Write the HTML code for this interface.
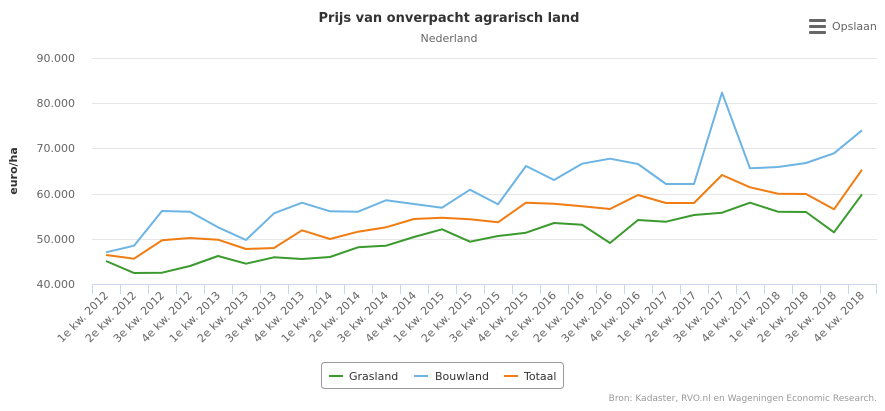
<!DOCTYPE html>
<html><head><meta charset="utf-8"><style>
body{margin:0;background:#fff;}
svg{display:block;font-family:"DejaVu Sans","Liberation Sans",sans-serif;}
</style></head><body>
<svg width="885" height="411" viewBox="0 0 885 411" xmlns="http://www.w3.org/2000/svg">
<rect width="885" height="411" fill="#fff"/>
<text x="449" y="22" text-anchor="middle" font-size="13" font-weight="bold" fill="#333">Prijs van onverpacht agrarisch land</text>
<text x="449" y="42" text-anchor="middle" font-size="11" fill="#666">Nederland</text>
<g fill="#666"><rect x="809" y="19" width="17" height="3" rx="1"/><rect x="809" y="25" width="17" height="3" rx="1"/><rect x="809" y="31" width="17" height="3" rx="1"/></g>
<text x="832" y="30" font-size="11" fill="#666">Opslaan</text>
<g stroke="#e6e6e6" stroke-width="1">
<line x1="92" x2="877" y1="58.5" y2="58.5"/><line x1="92" x2="877" y1="103.5" y2="103.5"/><line x1="92" x2="877" y1="148.5" y2="148.5"/><line x1="92" x2="877" y1="194.5" y2="194.5"/><line x1="92" x2="877" y1="239.5" y2="239.5"/>
</g>
<line x1="92" x2="877" y1="284.5" y2="284.5" stroke="#ccd6eb"/>
<g font-size="11" fill="#666" text-anchor="end">
<text x="75" y="62">90.000</text><text x="75" y="107">80.000</text><text x="75" y="152">70.000</text><text x="75" y="198">60.000</text><text x="75" y="243">50.000</text><text x="75" y="288">40.000</text>
</g>
<text transform="translate(17,171) rotate(-90)" text-anchor="middle" font-size="11" font-weight="bold" fill="#333">euro/ha</text>
<path stroke="#ccd6eb" fill="none" d="M92.5 284v10M120.5 284v10M148.5 284v10M176.5 284v10M204.5 284v10M232.5 284v10M260.5 284v10M288.5 284v10M316.5 284v10M344.5 284v10M372.5 284v10M400.5 284v10M428.5 284v10M456.5 284v10M484.5 284v10M512.5 284v10M540.5 284v10M568.5 284v10M596.5 284v10M624.5 284v10M652.5 284v10M680.5 284v10M708.5 284v10M736.5 284v10M764.5 284v10M792.5 284v10M820.5 284v10M848.5 284v10M876.5 284v10"/>
<g font-size="11" fill="#666" text-anchor="end">
<text transform="translate(109,296) rotate(-45)">1e kw. 2012</text>
<text transform="translate(137,296) rotate(-45)">2e kw. 2012</text>
<text transform="translate(165,296) rotate(-45)">3e kw. 2012</text>
<text transform="translate(193,296) rotate(-45)">4e kw. 2012</text>
<text transform="translate(221,296) rotate(-45)">1e kw. 2013</text>
<text transform="translate(249,296) rotate(-45)">2e kw. 2013</text>
<text transform="translate(277,296) rotate(-45)">3e kw. 2013</text>
<text transform="translate(305,296) rotate(-45)">4e kw. 2013</text>
<text transform="translate(333,296) rotate(-45)">1e kw. 2014</text>
<text transform="translate(361,296) rotate(-45)">2e kw. 2014</text>
<text transform="translate(389,296) rotate(-45)">3e kw. 2014</text>
<text transform="translate(417,296) rotate(-45)">4e kw. 2014</text>
<text transform="translate(445,296) rotate(-45)">1e kw. 2015</text>
<text transform="translate(473,296) rotate(-45)">2e kw. 2015</text>
<text transform="translate(501,296) rotate(-45)">3e kw. 2015</text>
<text transform="translate(529,296) rotate(-45)">4e kw. 2015</text>
<text transform="translate(557,296) rotate(-45)">1e kw. 2016</text>
<text transform="translate(585,296) rotate(-45)">2e kw. 2016</text>
<text transform="translate(613,296) rotate(-45)">3e kw. 2016</text>
<text transform="translate(641,296) rotate(-45)">4e kw. 2016</text>
<text transform="translate(669,296) rotate(-45)">1e kw. 2017</text>
<text transform="translate(697,296) rotate(-45)">2e kw. 2017</text>
<text transform="translate(725,296) rotate(-45)">3e kw. 2017</text>
<text transform="translate(753,296) rotate(-45)">4e kw. 2017</text>
<text transform="translate(781,296) rotate(-45)">1e kw. 2018</text>
<text transform="translate(809,296) rotate(-45)">2e kw. 2018</text>
<text transform="translate(837,296) rotate(-45)">3e kw. 2018</text>
<text transform="translate(865,296) rotate(-45)">4e kw. 2018</text>
</g>
<g fill="none" stroke-width="2" stroke-linejoin="round">
<polyline stroke="#6cb4e4" points="106,252.3 134,245.7 162,211 190,211.7 218,227.3 246,240 274,213.3 302,202.7 330,211.3 358,211.7 386,200.3 414,204 442,207.7 470,189.7 498,204.3 526,166 554,180 582,163.7 610,158.7 638,164 666,184 694,184 722,92.7 750,168.3 778,167 806,163 834,153.3 862,130.3"/>
<polyline stroke="#f07c12" points="106,255 134,258.7 162,240.3 190,238 218,239.7 246,249 274,248 302,230.3 330,239 358,231.7 386,227.3 414,219 442,217.7 470,219.3 498,222.3 526,202.7 554,203.7 582,206.3 610,209 638,195 666,203 694,203 722,175 750,187.3 778,193.7 806,194 834,209.3 862,169.7"/>
<polyline stroke="#3a9a2d" points="106,261 134,273 162,272.7 190,266 218,256 246,263.7 274,257.3 302,259 330,257 358,247.3 386,245.7 414,237 442,229.3 470,241.7 498,236 526,232.7 554,223 582,224.7 610,243 638,220 666,221.7 694,215 722,212.7 750,202.7 778,211.7 806,212 834,232.3 862,194.3"/>
</g>
<rect x="321.5" y="362.5" width="242" height="26" rx="3" fill="#fff" stroke="#999"/>
<line x1="329" x2="343" y1="376" y2="376" stroke="#3a9a2d" stroke-width="2"/>
<text x="349" y="380" font-size="11" fill="#333">Grasland</text>
<line x1="414" x2="428" y1="376" y2="376" stroke="#6cb4e4" stroke-width="2"/>
<text x="435" y="380" font-size="11" fill="#333">Bouwland</text>
<line x1="504" x2="518" y1="376" y2="376" stroke="#f07c12" stroke-width="2"/>
<text x="524" y="380" font-size="11" fill="#333">Totaal</text>
<text x="877" y="401" text-anchor="end" font-size="9" fill="#999">Bron: Kadaster, RVO.nl en Wageningen Economic Research.</text>
</svg>
</body></html>
